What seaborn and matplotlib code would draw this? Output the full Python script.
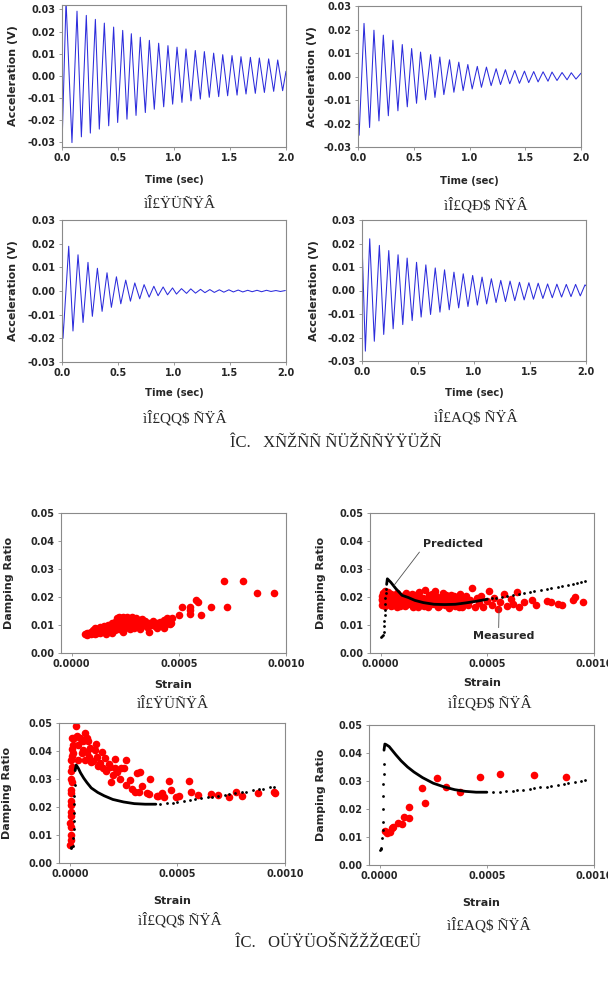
import matplotlib
matplotlib.use("Agg")
import matplotlib.pyplot as plt
import seaborn as sns
from matplotlib.ticker import FormatStrFormatter

# ---- free vibration records (extrema) ----
t1 = [0.0, 0.036, 0.089, 0.134, 0.173, 0.217, 0.253, 0.298, 0.333, 0.378, 0.417, 0.461, 0.497, 0.542, 0.580,
      0.619, 0.661, 0.699, 0.744, 0.780, 0.824, 0.863, 0.908, 0.946, 0.988, 1.027, 1.071, 1.107, 1.152, 1.190,
      1.235, 1.271, 1.315, 1.354, 1.399, 1.435, 1.479, 1.518, 1.563, 1.598, 1.643, 1.682, 1.726, 1.762, 1.807,
      1.845, 1.890, 1.926, 1.970, 2.0]
a1 = [-0.032, 0.034, -0.0303, 0.0292, -0.0277, 0.0273, -0.026, 0.0255, -0.0242, 0.0238, -0.0227, 0.022, -0.0212,
      0.0205, -0.0197, 0.019, -0.018, 0.0174, -0.0167, 0.016, -0.0152, 0.0147, -0.0141, 0.0136, -0.0129, 0.0129,
      -0.0121, 0.0121, -0.0114, 0.0114, -0.0106, 0.0109, -0.0098, 0.0102, -0.0095, 0.0095, -0.0091, 0.0091,
      -0.0088, 0.0086, -0.0083, 0.0083, -0.008, 0.008, -0.0076, 0.0076, -0.0071, 0.0071, -0.0068, 0.002]

t2 = [0.0, 0.01, 0.054, 0.104, 0.143, 0.188, 0.227, 0.272, 0.313, 0.358, 0.397, 0.442, 0.481, 0.525, 0.561,
      0.606, 0.651, 0.69, 0.734, 0.770, 0.821, 0.86, 0.904, 0.943, 0.985, 1.024, 1.07, 1.107, 1.152, 1.194,
      1.239, 1.278, 1.322, 1.361, 1.406, 1.448, 1.493, 1.531, 1.576, 1.615, 1.66, 1.704, 1.74, 1.785, 1.830,
      1.875, 1.913, 1.955, 2.0]
a2 = [-0.0153, -0.025, 0.0226, -0.0217, 0.0197, -0.0189, 0.0176, -0.0167, 0.0154, -0.0146, 0.0136, -0.0129,
      0.0119, -0.0114, 0.0104, -0.0099, 0.0093, -0.0089, 0.0083, -0.0077, 0.0071, -0.0067, 0.0061, -0.006,
      0.0051, -0.0053, 0.0043, -0.0046, 0.004, -0.0039, 0.0033, -0.0034, 0.0029, -0.0031, 0.0026, -0.0029,
      0.0023, -0.0026, 0.0021, -0.0023, 0.002, -0.002, 0.0019, -0.0017, 0.0017, -0.0014, 0.0016, -0.0011, 0.0014]

t3 = [0.0, 0.009, 0.06, 0.098, 0.143, 0.188, 0.232, 0.271, 0.316, 0.358, 0.402, 0.441, 0.486, 0.525, 0.569,
      0.611, 0.65, 0.694, 0.733, 0.778, 0.82, 0.858, 0.903, 0.942, 0.987, 1.022, 1.067, 1.112, 1.15, 1.192,
      1.237, 1.276, 1.32, 1.36, 1.405, 1.445, 1.49, 1.53, 1.573, 1.614, 1.658, 1.698, 1.741, 1.782, 1.826,
      1.866, 1.91, 1.95, 1.994]
a3 = [-0.0076, -0.02, 0.0189, -0.0169, 0.0153, -0.0133, 0.0121, -0.0107, 0.0096, -0.0086, 0.0077, -0.0069,
      0.006, -0.0054, 0.0046, -0.0043, 0.0034, -0.0033, 0.0027, -0.0026, 0.002, -0.002, 0.0017, -0.0016,
      0.0013, -0.0013, 0.001, -0.001, 0.0009, -0.0009, 0.0007, -0.0007, 0.0006, -0.0006, 0.0005, -0.0005,
      0.0005, -0.0004, 0.0004, -0.0004, 0.0003, -0.0003, 0.0003, -0.0003, 0.0003, -0.0002, 0.0002, -0.0002, 0.0002]

t4 = [0.0, 0.03, 0.069, 0.11, 0.155, 0.194, 0.239, 0.278, 0.322, 0.364, 0.403, 0.448, 0.487, 0.528, 0.57,
      0.612, 0.654, 0.696, 0.737, 0.779, 0.821, 0.863, 0.904, 0.946, 0.988, 1.03, 1.072, 1.113, 1.155, 1.197,
      1.239, 1.281, 1.322, 1.364, 1.406, 1.448, 1.49, 1.531, 1.573, 1.615, 1.657, 1.699, 1.74, 1.782, 1.824,
      1.866, 1.907, 1.949, 1.991, 2.0]
a4 = [0.021, -0.0258, 0.022, -0.0216, 0.0192, -0.0187, 0.017, -0.0163, 0.0152, -0.0145, 0.0138, -0.0128,
      0.012, -0.0113, 0.0109, -0.0102, 0.0096, -0.0092, 0.0088, -0.0082, 0.0078, -0.0074, 0.0071, -0.0068,
      0.0064, -0.0062, 0.0057, -0.0057, 0.005, -0.0051, 0.0043, -0.0047, 0.004, -0.0043, 0.0035, -0.004,
      0.0033, -0.0037, 0.0031, -0.0034, 0.0028, -0.0031, 0.0027, -0.0028, 0.0026, -0.0026, 0.0026, -0.0023,
      0.0024, 0.002]

# ---- damping ratio vs strain, measured (red) ----
s5 = [0.00008, 0.00009, 0.0001, 0.0001, 0.00011, 0.00011, 0.00012, 0.00012, 0.00013, 0.00013, 0.00014, 0.00014,
      0.00015, 0.00015, 0.00016, 0.00016, 0.00017, 0.00017, 0.00018, 0.00018, 0.00019, 0.00019, 0.0002, 0.0002,
      0.0002, 0.00021, 0.00021, 0.00022, 0.00022, 0.00023, 0.00023, 0.00024, 0.00024, 0.00025, 0.00025, 0.00026,
      0.00026, 0.00027, 0.00027, 0.00028, 0.00028, 0.00029, 0.00029, 0.0003, 0.0003, 0.00031, 0.00032, 0.00032,
      0.00033, 0.00034, 0.00034, 0.00035, 0.00036, 0.00037, 0.00038, 0.00039, 0.0004, 0.00041, 0.00042, 0.00043,
      0.00044, 0.00045, 0.00046, 0.00047]
d5 = [0.0071, 0.0075, 0.0072, 0.0082, 0.0078, 0.0088, 0.0073, 0.0085, 0.0081, 0.0092, 0.0077, 0.0089, 0.0096,
      0.0082, 0.0075, 0.0091, 0.0085, 0.0101, 0.0079, 0.0094, 0.0106, 0.0088, 0.0081, 0.0097, 0.011, 0.0092,
      0.0116, 0.0085, 0.0103, 0.012, 0.0095, 0.0076, 0.0109, 0.0123, 0.0089, 0.0101, 0.0114, 0.0084, 0.0097,
      0.0124, 0.0107, 0.0118, 0.0091, 0.0103, 0.0113, 0.0096, 0.0119, 0.0087, 0.0106, 0.0099, 0.0114, 0.0092,
      0.0108, 0.0101, 0.0113, 0.0095, 0.0106, 0.0111, 0.0099, 0.0118, 0.0104, 0.0122, 0.0102, 0.0124]
s5b = [0.000445, 0.000461, 0.0005, 0.000516, 0.00055, 0.00055, 0.00055, 0.000581, 0.000589, 0.000602, 0.000652,
       0.000711, 0.000723, 0.0008, 0.000864, 0.000942]
d5b = [0.0124, 0.0107, 0.0136, 0.0166, 0.0166, 0.0155, 0.014, 0.019, 0.0182, 0.0136, 0.0164, 0.0257, 0.0166,
       0.0258, 0.0213, 0.0213]
s5c = [0.00006, 0.00007, 0.00007, 0.00009, 0.00011, 0.00013, 0.00016, 0.00019, 0.00021, 0.00022, 0.00024,
       0.00026, 0.00028, 0.0003, 0.00033, 0.00036, 0.0004, 0.00043]
d5c = [0.0067, 0.0072, 0.0066, 0.0068, 0.0067, 0.0071, 0.0069, 0.0073, 0.0125, 0.0129, 0.0128, 0.0127, 0.013,
       0.0126, 0.0123, 0.0076, 0.0089, 0.0091]

s6 = [0.000005, 0.000006, 0.000008, 0.00001, 0.000012, 0.000015, 0.000018, 0.00002, 0.000022, 0.000025,
      0.00003, 0.000034, 0.000038, 0.000042, 0.000046, 0.00005, 0.000055, 0.00006, 0.000065, 0.00007,
      0.000075, 0.00008, 0.000085, 0.00009, 0.0001, 0.00011, 0.00012, 0.00013, 0.00014, 0.00015,
      0.00016, 0.00017, 0.00018, 0.00019, 0.0002, 0.00021, 0.00022, 0.00023, 0.00024, 0.00025,
      0.00026, 0.00027, 0.00028, 0.00029, 0.0003, 0.00031, 0.00032, 0.00033, 0.00034, 0.00035,
      0.00036, 0.00037, 0.00038, 0.00039, 0.0004, 0.00041, 0.00042, 0.00043, 0.00044, 0.00045,
      0.00046, 0.00047, 0.00048, 0.0005, 0.00051, 0.00052, 0.00053, 0.00055, 0.00056, 0.00058,
      0.00059, 0.00061, 0.00062, 0.00064, 0.00065, 0.00067, 0.00071, 0.00073, 0.00078, 0.0008,
      0.00083, 0.00085, 0.0009, 0.00091, 0.00095]
d6 = [0.0170, 0.0205, 0.0188, 0.0215, 0.0176, 0.0198, 0.0222, 0.0184, 0.0168, 0.0208,
      0.0192, 0.0218, 0.0178, 0.0201, 0.0186, 0.0212, 0.0195, 0.0172, 0.0206, 0.0188,
      0.0215, 0.0179, 0.0197, 0.0168, 0.0204, 0.0186, 0.0213, 0.0174, 0.0195, 0.0165,
      0.0208, 0.0183, 0.0219, 0.0171, 0.0196, 0.0224, 0.0163, 0.0189, 0.0211, 0.0176,
      0.0202, 0.0166, 0.0187, 0.0215, 0.0172, 0.0198, 0.0162, 0.0207, 0.0181, 0.0168,
      0.0194, 0.0211, 0.0165, 0.0183, 0.0203, 0.0172, 0.0188, 0.0233, 0.0166, 0.0196,
      0.0178, 0.0205, 0.0165, 0.0187, 0.0221, 0.0172, 0.0198, 0.0158, 0.0183, 0.0212,
      0.0168, 0.0193, 0.0174, 0.0217, 0.0165, 0.0183, 0.0190, 0.0172, 0.0187, 0.0181,
      0.0176, 0.0172, 0.0188, 0.0200, 0.0183]
s6b = [0.000007, 0.000014, 0.00002, 0.000028, 0.000036, 0.000048, 0.000058, 0.000068, 0.000078, 0.000095,
       0.000105, 0.000115, 0.000125, 0.000135, 0.000145, 0.000155, 0.000165, 0.000175, 0.000185, 0.000195,
       0.000205, 0.000215, 0.000225, 0.000235, 0.000245, 0.000255, 0.000265, 0.000275, 0.000285, 0.000295,
       0.000305, 0.000315, 0.000325, 0.000335, 0.000345, 0.000355, 0.000365, 0.000375, 0.000385, 0.000395]
d6b = [0.0192, 0.0181, 0.0203, 0.0175, 0.0198, 0.0169, 0.0184, 0.0199, 0.0163, 0.0178,
       0.0196, 0.0169, 0.0201, 0.0183, 0.0212, 0.0176, 0.0194, 0.0163, 0.0201, 0.0184,
       0.0168, 0.0192, 0.0206, 0.0174, 0.0195, 0.0222, 0.0181, 0.0168, 0.0199, 0.0185,
       0.0208, 0.0167, 0.0191, 0.0176, 0.0203, 0.0185, 0.0166, 0.0196, 0.0175, 0.0192]

s7a = [0.000003, 0.000005, 0.000004, 0.000006, 0.000003, 0.000007, 0.000005, 0.000004, 0.000008, 0.000006,
       0.000005, 0.000009, 0.000007, 0.000006, 0.00001, 0.000008, 0.000012, 0.00001, 0.000014, 0.000012, 0.000016]
d7a = [0.0063, 0.0082, 0.0101, 0.0128, 0.0142, 0.0168, 0.0181, 0.0207, 0.0223, 0.0249,
       0.0262, 0.0288, 0.0301, 0.0327, 0.0343, 0.0369, 0.0382, 0.0408, 0.0421, 0.0447, 0.0394]
s7b = [0.00003, 0.000019, 0.000047, 0.00007, 0.000063, 0.000086, 0.000094, 0.000117, 0.000125, 0.000078,
       0.000055, 0.000039, 0.00007, 0.0001, 0.00014, 0.000164, 0.000156, 0.000188, 0.00021, 0.00021,
       0.000203, 0.000234, 0.000263, 0.000253, 0.000281, 0.000313, 0.000328, 0.000305, 0.000336, 0.000359,
       0.000375, 0.000406, 0.00043, 0.00046, 0.000469, 0.000492, 0.000508, 0.000555, 0.000563, 0.000594,
       0.000656, 0.000688, 0.000742, 0.000773, 0.0008, 0.000875, 0.00095, 0.000953]
d7b = [0.0488, 0.0446, 0.0446, 0.0464, 0.0434, 0.0434, 0.041, 0.0404, 0.038, 0.0398,
       0.0392, 0.0368, 0.0368, 0.0362, 0.0356, 0.0374, 0.0338, 0.0344, 0.037, 0.0341,
       0.0314, 0.0299, 0.0368, 0.0338, 0.0297, 0.0323, 0.0326, 0.0255, 0.0275, 0.025,
       0.0299, 0.0239, 0.0249, 0.0292, 0.0261, 0.0237, 0.0239, 0.0292, 0.0255, 0.0243,
       0.0246, 0.0243, 0.0237, 0.0255, 0.0239, 0.0251, 0.0255, 0.0249]
s7c = [0.000035, 0.00004, 0.00006, 0.00008, 0.00009, 0.00011, 0.00012, 0.00013, 0.00015, 0.00017,
       0.00018, 0.00019, 0.00022, 0.00024, 0.00026, 0.00029, 0.00032, 0.00037, 0.00041, 0.00044]
d7c = [0.0455, 0.042, 0.0405, 0.0445, 0.038, 0.0365, 0.0425, 0.0345, 0.0395, 0.033,
       0.0355, 0.029, 0.0325, 0.034, 0.028, 0.0265, 0.0255, 0.0245, 0.024, 0.0235]

s8 = [0.000025, 0.000036, 0.000047, 0.000057, 0.000063, 0.000084, 0.000104, 0.000115, 0.000136, 0.000136,
      0.000199, 0.000212, 0.000266, 0.00031, 0.000373, 0.000468, 0.000563, 0.000722, 0.00087]
d8 = [0.0123, 0.0113, 0.0119, 0.0131, 0.0137, 0.0149, 0.0146, 0.017, 0.0208, 0.0167,
      0.0276, 0.022, 0.0312, 0.0277, 0.0261, 0.0313, 0.0325, 0.032, 0.0313]

# ---- predicted (black): solid part and dotted parts ----
p6_s = [0.000028, 0.0000314, 0.000047, 0.000071, 0.0001, 0.00013, 0.00016, 0.0002, 0.00025, 0.0003, 0.00035,
        0.0004, 0.00045, 0.0005]
p6_d = [0.0245, 0.0265, 0.0253, 0.023, 0.0206, 0.0198, 0.0188, 0.018, 0.0174, 0.0173, 0.0174, 0.0179, 0.0185, 0.0192]
q6_s = [0.000002, 0.000006, 0.00001, 0.000014, 0.000016, 0.000017, 0.000018, 0.000019, 0.00002, 0.000021,
        0.000023, 0.000025, 0.00052, 0.00054, 0.00057, 0.00059, 0.00062, 0.00065, 0.00067, 0.0007, 0.00072,
        0.00075, 0.00078, 0.0008, 0.00083, 0.00085, 0.00088, 0.0009, 0.00092, 0.00094, 0.00096]
q6_d = [0.0057, 0.0059, 0.0063, 0.0075, 0.0095, 0.0115, 0.0135, 0.0155, 0.0175, 0.0195, 0.0215, 0.023,
        0.0195, 0.0197, 0.0201, 0.0203, 0.0207, 0.0211, 0.0214, 0.0218, 0.0221, 0.0225, 0.0229, 0.0232,
        0.0236, 0.0239, 0.0243, 0.0246, 0.0249, 0.0252, 0.0256]

p7_s = [0.000025, 0.00003, 0.00004, 0.00005, 0.000065, 0.00008, 0.0001, 0.00013, 0.00016, 0.0002, 0.00025,
        0.0003, 0.00035, 0.0004]
p7_d = [0.033, 0.035, 0.0338, 0.0322, 0.0303, 0.0287, 0.0268, 0.0252, 0.024, 0.0227, 0.0218, 0.0212, 0.021, 0.021]
q7_s = [0.000004, 0.000008, 0.000015, 0.000017, 0.000018, 0.000019, 0.00002, 0.000021, 0.000022, 0.000023,
        0.00042, 0.00045, 0.00048, 0.0005, 0.00053, 0.00056, 0.00058, 0.00061, 0.00064, 0.00066, 0.00069,
        0.00072, 0.00074, 0.00077, 0.0008, 0.00082, 0.00085, 0.00088, 0.0009, 0.00093, 0.00095]
q7_d = [0.0052, 0.0056, 0.0062, 0.009, 0.012, 0.015, 0.018, 0.021, 0.024, 0.028,
        0.0211, 0.0213, 0.0215, 0.0217, 0.0221, 0.0224, 0.0227, 0.0231, 0.0234, 0.0236, 0.0239,
        0.0243, 0.0246, 0.0249, 0.0253, 0.0255, 0.0259, 0.0263, 0.0266, 0.027, 0.0273]

p8_s = [0.00002, 0.000024, 0.00003, 0.000044, 0.00006, 0.000076, 0.0001, 0.00013, 0.00016, 0.0002, 0.00025,
        0.0003, 0.00035, 0.0004, 0.00045, 0.0005]
p8_d = [0.041, 0.0432, 0.043, 0.0423, 0.0408, 0.0393, 0.0372, 0.035, 0.0332, 0.0312, 0.0292, 0.0279, 0.0269,
        0.0263, 0.026, 0.026]
q8_s = [0.000001, 0.000004, 0.000007, 0.000012, 0.000013, 0.000014, 0.000015, 0.000016, 0.000017, 0.000018,
        0.000019, 0.00053, 0.00056, 0.00059, 0.00062, 0.00064, 0.00067, 0.0007, 0.00072, 0.00075, 0.00078,
        0.0008, 0.00083, 0.00086, 0.00088, 0.00091, 0.00094, 0.00096]
q8_d = [0.0054, 0.0056, 0.006, 0.0095, 0.0125, 0.0155, 0.02, 0.0245, 0.029, 0.0325, 0.036,
        0.0261, 0.0262, 0.0263, 0.0265, 0.0267, 0.0269, 0.0272, 0.0274, 0.0277, 0.028, 0.0283,
        0.0287, 0.029, 0.0293, 0.0297, 0.0301, 0.0304]

sub_caps = ["ìÎ£ŸÜÑŸÂ", "ìÎ£QÐ$ ÑŸÂ", "ìÎ£QQ$ ÑŸÂ", "ìÎ£AQ$ ÑŸÂ"]
fig_caps = ["ÎC.   XÑŽÑÑ ÑÜŽÑÑŸŸÜŽÑ", "ÎC.   OÜŸÜOŠÑŽŽŽŒŒÜ"]

sns.set_style("white")
plt.rcParams['font.family'] = ['DejaVu Sans']
plt.rcParams['font.weight'] = 'bold'

W, H = 608, 993
GRAY = '#8a8a8a'
BLUE = '#2c2cdc'
SERIF = ['Liberation Serif', 'DejaVu Serif']
fig = plt.figure(figsize=(W / 100, H / 100), dpi=100)


def add_ax(l, t, r, b):
    return fig.add_axes([l / W, 1 - b / H, (r - l) / W, (b - t) / H])


def style(ax, xlim, ylim, xticks, yticks, xfmt, yfmt, xlabel, ylabel, xl_y, yl_x, lsize):
    ax.set_xlim(xlim)
    ax.set_ylim(ylim)
    ax.set_xticks(xticks)
    ax.set_yticks(yticks)
    ax.xaxis.set_major_formatter(FormatStrFormatter(xfmt))
    ax.yaxis.set_major_formatter(FormatStrFormatter(yfmt))
    ax.tick_params(direction='out', length=2.5, width=0.6, color=GRAY, labelsize=7, pad=2,
                   bottom=True, left=True)
    for sp in ax.spines.values():
        sp.set_visible(True)
        sp.set_color(GRAY)
        sp.set_linewidth(0.8)
    ax.set_xlabel(xlabel, fontsize=lsize, fontweight='bold')
    ax.set_ylabel(ylabel, fontsize=8, fontweight='bold')
    ax.xaxis.label.set_verticalalignment('center')
    ax.yaxis.label.set_verticalalignment('center')
    ax.xaxis.set_label_coords(0.5, xl_y)
    ax.yaxis.set_label_coords(yl_x, 0.5)


# ---- time histories ----
time_boxes = [(62, 5, 286, 147), (358, 6, 581, 147), (62, 220, 286, 362), (362, 220, 586, 361)]
time_data = [(t1, a1), (t2, a2), (t3, a3), (t4, a4)]
xl_pos = [-0.232, -0.241, -0.218, -0.227]
yl_pos = [-0.219, -0.206, -0.219, -0.214]
for i, (box, (tt, aa)) in enumerate(zip(time_boxes, time_data)):
    ax = add_ax(*box)
    sns.lineplot(x=tt, y=aa, ax=ax, color=BLUE, linewidth=0.75, sort=False, estimator=None)
    ylim = (-0.0323, 0.032) if i == 0 else (-0.03, 0.03)
    style(ax, (0, 2), ylim, [0, 0.5, 1.0, 1.5, 2.0], [-0.03, -0.02, -0.01, 0, 0.01, 0.02, 0.03],
          '%.1f', '%.2f', 'Time (sec)', 'Acceleration (V)', xl_pos[i], yl_pos[i], 7.2)

# ---- damping ratio vs strain ----
scat_boxes = [(61, 513, 286, 653), (370, 513, 594, 653), (59, 723, 285, 863), (369, 725, 594, 865)]
meas = [(s5 + s5b + s5c, d5 + d5b + d5c), (s6 + s6b, d6 + d6b),
        (s7a + s7b + s7c, d7a + d7b + d7c), (s8, d8)]
pred = [None, (p6_s, p6_d, q6_s, q6_d), (p7_s, p7_d, q7_s, q7_d), (p8_s, p8_d, q8_s, q8_d)]
xl_pos = [-0.229, -0.214, -0.271, -0.269]
yl_pos = [-0.229, -0.22, -0.231, -0.215]
axes2 = []
for i, box in enumerate(scat_boxes):
    ax = add_ax(*box)
    ms, md = meas[i]
    sns.scatterplot(x=ms, y=md, ax=ax, color='#ff0000', s=30, linewidth=0, zorder=2)
    if pred[i] is not None:
        ps, pd_, qs, qd = pred[i]
        sns.lineplot(x=ps, y=pd_, ax=ax, color='black', linewidth=2.0, sort=False, estimator=None, zorder=3)
        sns.scatterplot(x=qs, y=qd, ax=ax, color='black', s=4, linewidth=0, zorder=3)
    style(ax, (-0.00005, 0.001), (0, 0.05), [0, 0.0005, 0.001], [0, 0.01, 0.02, 0.03, 0.04, 0.05],
          '%.4f', '%.2f', 'Strain', 'Damping Ratio', xl_pos[i], yl_pos[i], 8)
    axes2.append(ax)

ax6 = axes2[1]
ax6.annotate('Predicted', xy=(0.000063, 0.0242), xytext=(0.000197, 0.039), fontsize=8, fontweight='bold',
             va='center', ha='left',
             arrowprops=dict(arrowstyle='-', color='#505050', lw=0.6, relpos=(0, 0.1), shrinkA=0, shrinkB=0))
ax6.annotate('Measured', xy=(0.000555, 0.0158), xytext=(0.000432, 0.0061), fontsize=8, fontweight='bold',
             va='center', ha='left',
             arrowprops=dict(arrowstyle='-', color='#505050', lw=0.6, relpos=(0.42, 1.0), shrinkA=0, shrinkB=0))

# ---- captions ----
cap_pos = [(180, 205), (486, 205), (185, 418), (476, 417), (173, 705), (490, 703), (180, 920), (489, 925)]
for k, (cx, cy) in enumerate(cap_pos):
    fig.text(cx / W, 1 - cy / H, sub_caps[k % 4], ha='center', va='center', fontsize=11,
             family=SERIF, fontweight='normal')
fig.text(336 / W, 1 - 443 / H, fig_caps[0], ha='center', va='center', fontsize=12,
         family=SERIF, fontweight='normal')
fig.text(328 / W, 1 - 943 / H, fig_caps[1], ha='center', va='center', fontsize=12,
         family=SERIF, fontweight='normal')

fig.savefig('out.png', dpi=100)
